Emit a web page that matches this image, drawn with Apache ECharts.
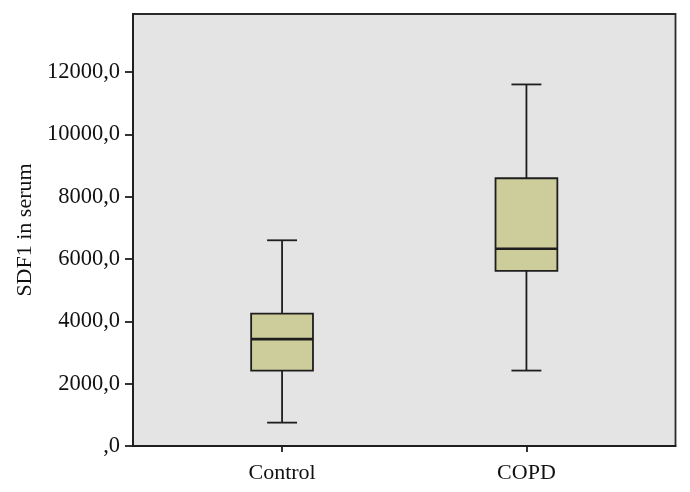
<!DOCTYPE html>
<html>
<head>
<meta charset="utf-8">
<script src="https://cdn.jsdelivr.net/npm/echarts@6/dist/echarts.min.js"></script>
<style>html,body{margin:0;padding:0;background:#fff}#chart{width:690px;height:492px}</style>
</head>
<body>
<div id="chart"></div>
<script>
const categories = ['Control', 'COPD'];
const whiskerLow = [750, 2420];
const q1 = [2420, 5620];
const median = [3430, 6330];
const q3 = [4250, 8590];
const whiskerHigh = [6600, 11600];
const yTicks = [0, 2000, 4000, 6000, 8000, 10000, 12000];
const yTitle = 'SDF1 in serum';

const data = categories.map((c, i) => [i + 1, whiskerLow[i], q1[i], median[i], q3[i], whiskerHigh[i]]);
const catPositions = categories.map((c, i) => i + 1);
const font = '"Liberation Serif", "DejaVu Serif", serif';
const ink = '#1e1e1e';

const chart = echarts.init(document.getElementById('chart'), null, {renderer: 'canvas'});
chart.setOption({
  animation: false,
  grid: {
    left: 133, right: 14.5, top: 14, bottom: 46,
    show: true, backgroundColor: '#e4e4e4', borderColor: '#2a2a2a', borderWidth: 1.8
  },
  xAxis: {
    type: 'value', min: 0.39, max: 2.61,
    splitLine: {show: false},
    axisLine: {show: true, lineStyle: {color: ink, width: 1.8}},
    axisTick: {show: true, length: 6, customValues: catPositions, lineStyle: {color: ink, width: 1.8}},
    axisLabel: {
      customValues: catPositions, margin: 16,
      fontFamily: font, fontSize: 22, color: '#111',
      formatter: v => categories[Math.round(v) - 1] || ''
    }
  },
  yAxis: {
    type: 'value', min: 0, max: 13860,
    name: yTitle, nameLocation: 'middle', nameGap: 97,
    nameTextStyle: {fontFamily: font, fontSize: 22, color: '#111'},
    splitLine: {show: false},
    axisLine: {show: true, lineStyle: {color: ink, width: 1.8}},
    axisTick: {show: true, length: 8, customValues: yTicks, lineStyle: {color: ink, width: 1.8}},
    axisLabel: {
      customValues: yTicks, margin: 13,
      fontFamily: font, fontSize: 22.5, color: '#111',
      formatter: v => (v === 0 ? '' : String(v)) + ',0'
    }
  },
  series: [{
    type: 'custom',
    data: data,
    encode: {x: 0, y: [1, 2, 3, 4, 5]},
    renderItem: function (params, api) {
      const x = api.value(0);
      const pt = i => api.coord([x, api.value(i)]);
      const pMin = pt(1), pQ1 = pt(2), pMed = pt(3), pQ3 = pt(4), pMax = pt(5);
      const halfBox = api.size([0.253, 0])[0] / 2;
      const halfCap = api.size([0.1225, 0])[0] / 2;
      const cx = pMin[0];
      const ls = {stroke: ink, lineWidth: 1.8};
      return {
        type: 'group',
        children: [
          {type: 'line', shape: {x1: cx, y1: pMax[1], x2: cx, y2: pQ3[1]}, style: ls},
          {type: 'line', shape: {x1: cx, y1: pQ1[1], x2: cx, y2: pMin[1]}, style: ls},
          {type: 'line', shape: {x1: cx - halfCap, y1: pMax[1], x2: cx + halfCap, y2: pMax[1]}, style: ls},
          {type: 'line', shape: {x1: cx - halfCap, y1: pMin[1], x2: cx + halfCap, y2: pMin[1]}, style: ls},
          {type: 'rect', shape: {x: cx - halfBox, y: pQ3[1], width: 2 * halfBox, height: pQ1[1] - pQ3[1]},
            style: {fill: '#cdcd9b', stroke: ink, lineWidth: 1.8}},
          {type: 'line', shape: {x1: cx - halfBox, y1: pMed[1], x2: cx + halfBox, y2: pMed[1]},
            style: {stroke: ink, lineWidth: 2.6}}
        ]
      };
    }
  }]
});
</script>
</body>
</html>
